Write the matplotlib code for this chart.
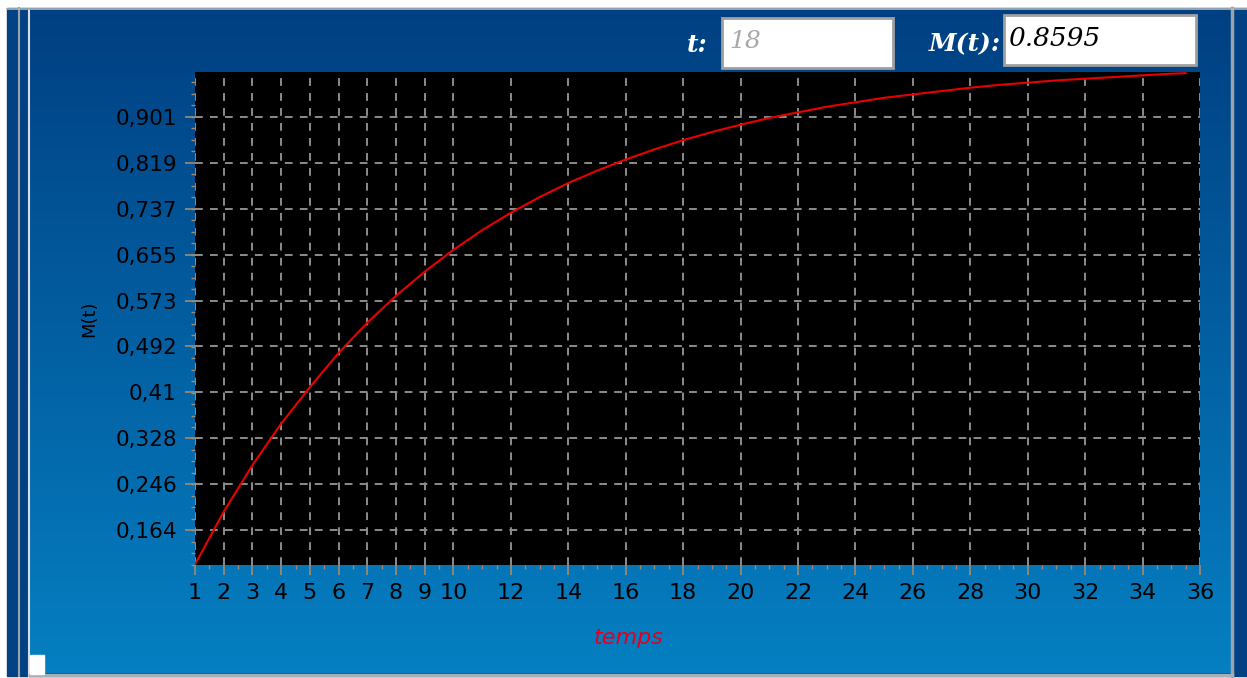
import numpy as np
import matplotlib
matplotlib.use('Agg')
import matplotlib.pyplot as plt
from matplotlib.patches import Rectangle
from matplotlib.ticker import FixedLocator, MultipleLocator

# values
t = [1, 2, 3, 4, 5, 6, 7, 8, 9, 10, 11, 12, 13, 14, 15, 16, 17, 18,
     19, 20, 21, 22, 23, 24, 25, 26, 27, 28, 29, 30, 31, 32, 33, 34, 35, 35.5]
m = [0.103, 0.197, 0.280, 0.354, 0.419, 0.480, 0.534, 0.582, 0.625, 0.664,
     0.699, 0.730, 0.758, 0.783, 0.805, 0.825, 0.843, 0.8595, 0.874, 0.887,
     0.899, 0.909, 0.919, 0.927, 0.935, 0.941, 0.947, 0.953, 0.958, 0.962,
     0.966, 0.969, 0.972, 0.975, 0.978, 0.979]

x_ticks = [1, 2, 3, 4, 5, 6, 7, 8, 9, 10, 12, 14, 16, 18, 20, 22, 24, 26,
           28, 30, 32, 34, 36]
y_ticks = [0.164, 0.246, 0.328, 0.41, 0.492, 0.573, 0.655, 0.737, 0.819, 0.901]
y_labels = ['0,164', '0,246', '0,328', '0,41', '0,492', '0,573', '0,655',
            '0,737', '0,819', '0,901']

t_shown = '18'
m_shown = '0.8595'

W, H = 1247, 678
fig = plt.figure(figsize=(W / 100, H / 100), dpi=100, facecolor='white')

# window frame and gradient panel
bg = fig.add_axes([0, 0, 1, 1])
bg.set_xlim(0, W)
bg.set_ylim(H, 0)
bg.axis('off')
bg.add_patch(Rectangle((7, 8), W - 7, 668, color='#024282', zorder=0))
grad = np.linspace(0, 1, 256).reshape(-1, 1)
top = np.array([0.0, 0.25, 0.51])
bot = np.array([0.02, 0.50, 0.76])
img = top + (bot - top) * grad[..., None]
bg.imshow(img, extent=[30, 1231, 673, 10], aspect='auto', zorder=1)
bg.plot([19, 19], [8, 676], color='#9aa4b0', lw=1.5, zorder=2)
bg.plot([29, 29], [10, 676], color='#d8dde4', lw=1.5, zorder=2)
bg.plot([1232, 1232], [8, 676], color='#9aa4b0', lw=2.5, zorder=2)
bg.plot([30, 1232], [674.5, 674.5], color='#a8aeb4', lw=2.5, zorder=2)
bg.plot([7, W], [9, 9], color='#b0b6bc', lw=1.2, zorder=2)
bg.add_patch(Rectangle((30, 655), 14, 19, color='white', zorder=3))

# input boxes at the top
for x0, y0, w, h in [(722, 18, 171, 50), (1004, 15, 192, 50)]:
    bg.add_patch(Rectangle((x0, y0), w, h, facecolor='white',
                           edgecolor='#a0a0a0', lw=2, zorder=3))
bg.text(708, 45, 't:', color='white', fontsize=18, family='DejaVu Serif',
        style='italic', weight='bold', ha='right', va='center', zorder=4)
bg.text(729, 42, t_shown, color='#a8a8a8', fontsize=18,
        family='DejaVu Serif', style='italic', ha='left', va='center', zorder=4)
bg.text(1001, 44, 'M(t):', color='white', fontsize=18, family='DejaVu Serif',
        style='italic', weight='bold', ha='right', va='center', zorder=4)
bg.text(1008, 39, m_shown, color='black', fontsize=19,
        family='DejaVu Serif', style='italic', ha='left', va='center', zorder=4)

# plot area
ax = fig.add_axes([195 / W, 1 - 565 / H, 1005 / W, 493 / H])
ax.set_facecolor('black')
for s in ax.spines.values():
    s.set_visible(False)
ax.plot(t, m, color='#e80000', lw=1.5, zorder=3)
ax.set_xlim(1, 36)
ax.set_ylim(0.102, 0.981)

ax.xaxis.set_major_locator(FixedLocator(x_ticks))
ax.xaxis.set_minor_locator(MultipleLocator(0.5))
ax.set_xticklabels([str(v) for v in x_ticks])
ax.yaxis.set_major_locator(FixedLocator(y_ticks))
ax.set_yticklabels(y_labels)
ax.yaxis.set_minor_locator(MultipleLocator(0.0819 / 4))

ax.grid(True, which='major', color='#8c8c8c', lw=1.4, linestyle=(0, (4, 3.7)))
ax.tick_params(which='major', direction='out', length=7, width=1.2,
               color='#a08c70', labelsize=16, labelcolor='black', pad=6)
ax.tick_params(which='major', axis='y', labelsize=15.5)
ax.tick_params(which='minor', direction='out', length=3, width=1,
               color='#a08c70')
for lab in ax.get_xticklabels() + ax.get_yticklabels():
    lab.set_family('DejaVu Sans')

# axis titles
bg.text(629, 638, 'temps', color='#e00020', fontsize=16, style='italic',
        ha='center', va='center', zorder=4)
ax.set_ylabel('M(t)', color='black', fontsize=13, labelpad=12)

fig.savefig('out.png', dpi=100, facecolor=fig.get_facecolor())
